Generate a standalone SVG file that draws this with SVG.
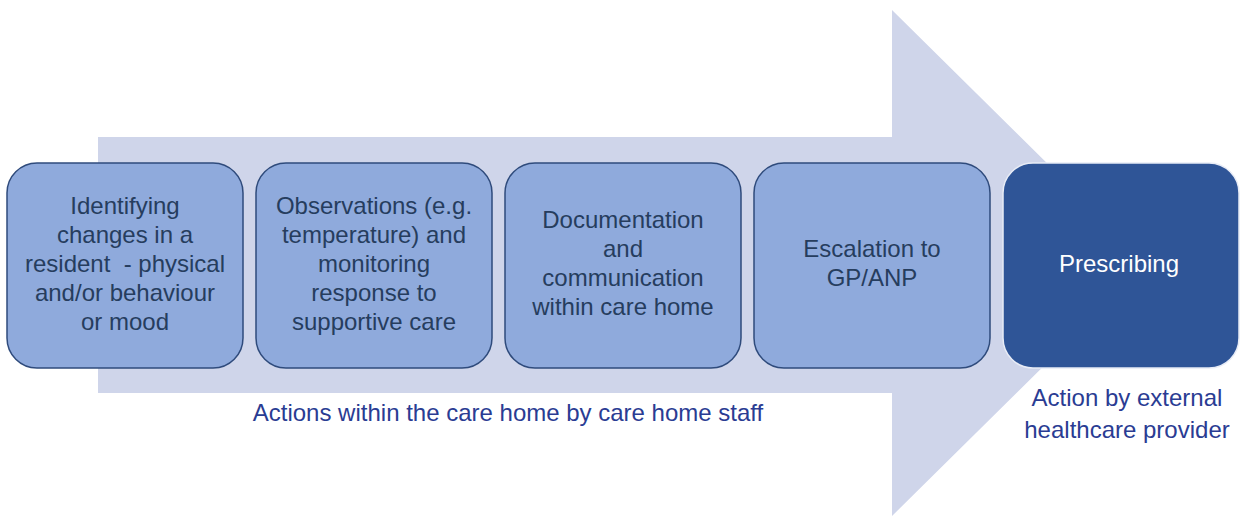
<svg xmlns="http://www.w3.org/2000/svg" width="1246" height="516" viewBox="0 0 1246 516">
<style>
.box{fill:#8FAADC;stroke:#2F4B7C;stroke-width:1.5}
.dark{fill:#2F5597;stroke:#E8ECF6;stroke-width:1.5}
.t{font-family:"Liberation Sans",Arial,sans-serif;font-size:24px;fill:#263D5E;text-anchor:middle}
.w{font-family:"Liberation Sans",Arial,sans-serif;font-size:24px;fill:#FFFFFF;text-anchor:middle}
.lab{font-family:"Liberation Sans",Arial,sans-serif;font-size:24px;fill:#2A3C93;text-anchor:middle}
</style>
<rect width="1246" height="516" fill="#FFFFFF"/>
<g id="connectors">
<polygon id="arrow" points="98,137 892,137 892,10 1148,263 892,516 892,393 98,393" fill="#CFD5EA"/>
</g>
<g id="n1">
<rect class="box" x="7" y="163" width="236" height="205" rx="30"/>
<text class="t" x="125" y="214">Identifying</text>
<text class="t" x="125" y="243">changes in a</text>
<text class="t" x="125" y="272" xml:space="preserve">resident  - physical</text>
<text class="t" x="125" y="301">and/or behaviour</text>
<text class="t" x="125" y="330">or mood</text>
</g>
<g id="n2">
<rect class="box" x="256" y="163" width="236" height="205" rx="30"/>
<text class="t" x="374" y="214">Observations (e.g.</text>
<text class="t" x="374" y="243">temperature) and</text>
<text class="t" x="374" y="272">monitoring</text>
<text class="t" x="374" y="301">response to</text>
<text class="t" x="374" y="330">supportive care</text>
</g>
<g id="n3">
<rect class="box" x="505" y="163" width="236" height="205" rx="30"/>
<text class="t" x="623" y="228">Documentation</text>
<text class="t" x="623" y="257">and</text>
<text class="t" x="623" y="286">communication</text>
<text class="t" x="623" y="315">within care home</text>
</g>
<g id="n4">
<rect class="box" x="754" y="163" width="236" height="205" rx="30"/>
<text class="t" x="872" y="257">Escalation to</text>
<text class="t" x="872" y="286">GP/ANP</text>
</g>
<g id="n5">
<rect class="dark" x="1003" y="163" width="236" height="205" rx="30"/>
<text class="w" x="1119" y="272">Prescribing</text>
</g>
<g id="labels">
<text class="lab" x="508" y="421">Actions within the care home by care home staff</text>
<text class="lab" x="1127" y="406">Action by external</text>
<text class="lab" x="1127" y="438">healthcare provider</text>
</g>
</svg>
